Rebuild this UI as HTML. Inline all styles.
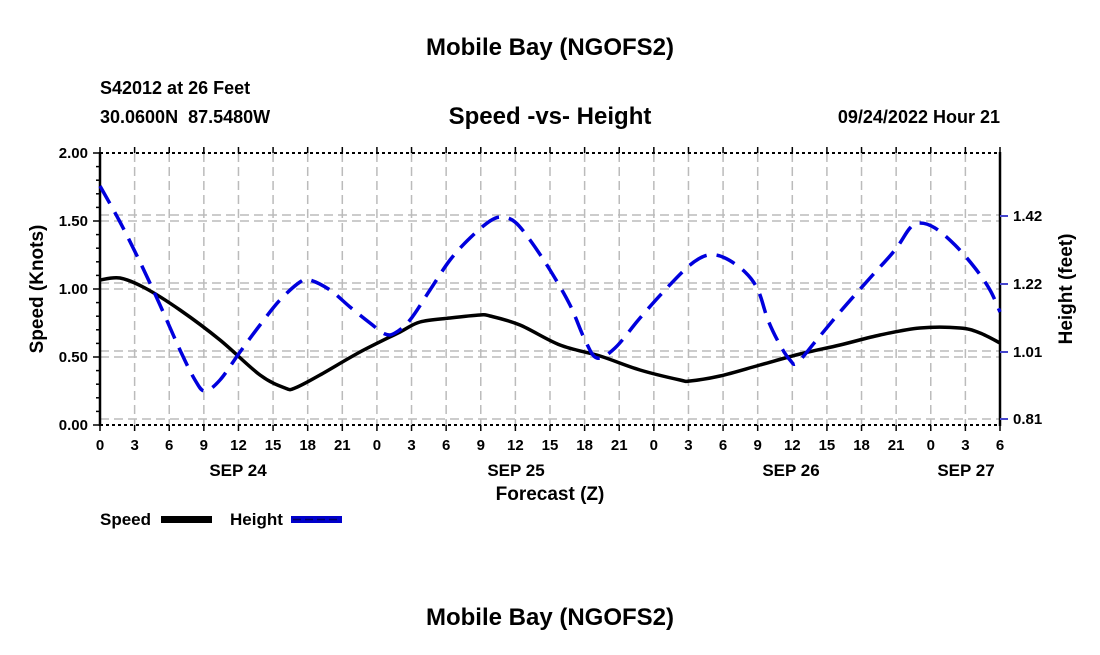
<!DOCTYPE html>
<html><head><style>body{margin:0;background:#fff}svg text{font-family:"Liberation Sans",Arial,sans-serif;font-weight:bold}</style></head><body>
<svg width="1100" height="650" viewBox="0 0 1100 650" xmlns="http://www.w3.org/2000/svg">
<rect width="1100" height="650" fill="#fff"/>
<text x="550" y="55" font-size="24" text-anchor="middle">Mobile Bay (NGOFS2)</text>
<text x="550" y="625" font-size="24" text-anchor="middle">Mobile Bay (NGOFS2)</text>
<text x="100" y="94" font-size="18">S42012 at 26 Feet</text>
<text x="100" y="123" font-size="18" xml:space="preserve">30.0600N  87.5480W</text>
<text x="550" y="124" font-size="24" text-anchor="middle">Speed -vs- Height</text>
<text x="1000" y="123" font-size="18" text-anchor="end">09/24/2022 Hour 21</text>
<g stroke="#bbb" stroke-width="1.5" stroke-dasharray="9,5" fill="none" id="grid"></g>
<g id="axes"></g>
<path id="spd" fill="none" stroke="#000" stroke-width="3.5" stroke-linejoin="round"/>
<path id="hgt" fill="none" stroke="#0000dd" stroke-width="3.5" stroke-dasharray="20,10" stroke-linejoin="round"/>
<g id="lab" font-size="15"></g>
<text x="238" y="476" font-size="17" text-anchor="middle">SEP 24</text>
<text x="516" y="476" font-size="17" text-anchor="middle">SEP 25</text>
<text x="791" y="476" font-size="17" text-anchor="middle">SEP 26</text>
<text x="966" y="476" font-size="17" text-anchor="middle">SEP 27</text>
<text x="550" y="500" font-size="19" text-anchor="middle">Forecast (Z)</text>
<text transform="translate(43,289) rotate(-90)" font-size="19" text-anchor="middle">Speed (Knots)</text>
<text transform="translate(1072,289) rotate(-90)" font-size="19" text-anchor="middle">Height (feet)</text>
<text x="100" y="525" font-size="17">Speed</text>
<rect x="161" y="516" width="51" height="7" fill="#000"/>
<text x="230" y="525" font-size="17">Height</text>
<rect x="291" y="516" width="51" height="7" fill="#0000cc"/>
<line x1="293" y1="519.5" x2="340" y2="519.5" stroke="#000066" stroke-width="1.5" stroke-dasharray="8,4"/>
</svg>
<script>
var ns="http://www.w3.org/2000/svg";
function el(p,t,a){var e=document.createElementNS(ns,t);for(var k in a)e.setAttribute(k,a[k]);p.appendChild(e);return e;}
var g=document.getElementById('grid'),ax=document.getElementById('axes'),lab=document.getElementById('lab');
var N=26,dx=900/N;
for(var i=1;i<N;i++){var x=100+i*dx;el(g,'line',{x1:x,y1:153,x2:x,y2:425});}
[221,289,357,215,283,351,419].forEach(function(y){el(g,'line',{x1:100,y1:y,x2:1000,y2:y});});
el(ax,'line',{x1:100,y1:153,x2:1000,y2:153,stroke:'#000','stroke-width':2,'stroke-dasharray':'3,3'});
el(ax,'line',{x1:100,y1:425,x2:1000,y2:425,stroke:'#000','stroke-width':2,'stroke-dasharray':'3,3'});
el(ax,'line',{x1:100,y1:152,x2:100,y2:426,stroke:'#000','stroke-width':2.5});
el(ax,'line',{x1:1000,y1:152,x2:1000,y2:426,stroke:'#000','stroke-width':2.5});
var hl=[0,3,6,9,12,15,18,21];
for(var i=0;i<=N;i++){var x=100+i*dx;
el(ax,'line',{x1:x,y1:425,x2:x,y2:431,stroke:'#000','stroke-width':1.5});
el(ax,'line',{x1:x,y1:153,x2:x,y2:147,stroke:'#000','stroke-width':1.5});
var t=el(lab,'text',{x:x,y:450,'text-anchor':'middle'});t.textContent=hl[i%8];}
for(var j=0;j<=20;j++){var y=425-j*13.6;el(ax,'line',{x1:100,y1:y,x2:j%5==0?93:96,y2:y,stroke:'#000','stroke-width':1.5});}
['0.00','0.50','1.00','1.50','2.00'].forEach(function(s,k){var t=el(lab,'text',{x:88,y:430-k*68,'text-anchor':'end'});t.textContent=s;});
[[216,'1.42'],[284,'1.22'],[352,'1.01'],[419,'0.81']].forEach(function(a){el(ax,'line',{x1:1000,y1:a[0],x2:1008,y2:a[0],stroke:'#4444cc','stroke-width':2});var t=el(lab,'text',{x:1013,y:a[0]+5});t.textContent=a[1];});
function cr(p){var d='M'+p[0][0]+','+p[0][1];for(var i=0;i<p.length-1;i++){var p0=p[i-1]||p[i],p1=p[i],p2=p[i+1],p3=p[i+2]||p2;
d+='C'+(p1[0]+(p2[0]-p0[0])/6)+','+(p1[1]+(p2[1]-p0[1])/6)+' '+(p2[0]-(p3[0]-p1[0])/6)+','+(p2[1]-(p3[1]-p1[1])/6)+' '+p2[0]+','+p2[1];}return d;}
var S=[[100,280],[120,278],[145,288],[180,310],[220,340],[260,375],[285,388],[295,388],[320,375],[360,352],[400,332],[420,322],[450,318],[480,315],[490,316],[520,325],[560,345],[600,356],[640,370],[680,380],[690,381],[720,376],[760,365],[800,354],[840,345],[880,335],[920,328],[960,328],[980,333],[1000,343]];
var H=[[100,186],[120,222],[140,262],[160,305],[180,350],[195,380],[205,391],[220,380],[240,352],[260,325],[280,300],[300,282],[310,280],[330,290],[350,307],[370,323],[385,334],[395,333],[410,320],[430,290],[450,260],[470,238],[490,221],[502,217],[515,222],[530,240],[550,270],[570,305],[585,340],[597,358],[615,348],[640,318],[665,290],[690,265],[708,255],[725,258],[745,272],[758,290],[768,320],[780,345],[790,360],[797,363],[815,342],[840,312],[870,278],[895,250],[910,228],[920,223],[935,228],[955,245],[975,268],[990,290],[1000,312]];
document.getElementById('spd').setAttribute('d',cr(S));
document.getElementById('hgt').setAttribute('d',cr(H));
</script>
</body></html>
